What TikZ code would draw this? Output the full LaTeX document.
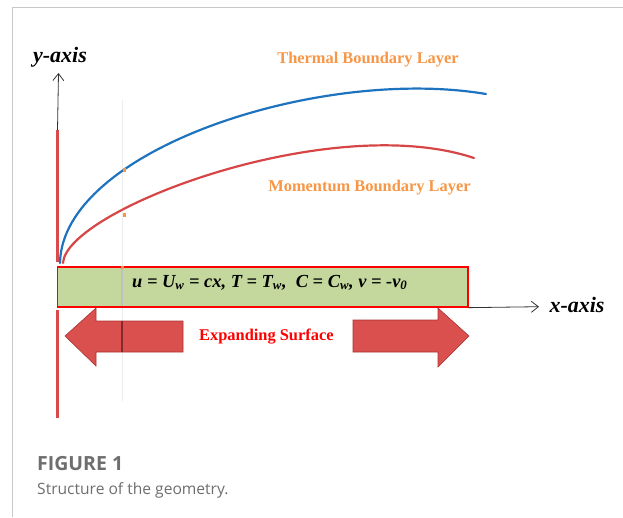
\documentclass[tikz,border=0pt]{standalone}
\usepackage{fontspec}
\setmainfont{Liberation Serif}
\newfontfamily\capfont{Open Sans}
\usetikzlibrary{arrows.meta}
\definecolor{framegray}{RGB}{200,200,200}
\definecolor{layerorange}{RGB}{247,150,70}
\definecolor{curveblue}{RGB}{30,115,190}
\definecolor{curvered}{RGB}{215,70,70}
\definecolor{wallred}{RGB}{215,75,75}
\definecolor{arrowfill}{RGB}{217,80,78}
\definecolor{arrowedge}{RGB}{170,50,50}
\definecolor{surfgreen}{RGB}{196,216,158}
\definecolor{capgray}{RGB}{110,110,110}
\definecolor{faintgray}{RGB}{236,236,236}
\tikzset{
  axisline/.style={draw=black!80, line width=0.8pt, -{Straight Barb[length=7pt,width=11pt]}},
  axislabel/.style={font=\fontsize{22}{22}\selectfont\bfseries\itshape, inner sep=0pt},
  layerlabel/.style={font=\fontsize{16.4}{16.4}\selectfont\bfseries, text=layerorange, inner sep=0pt},
  wall/.style={draw=wallred, line width=2.6pt},
  bigarrow/.style={fill=arrowfill, draw=arrowedge, line width=0.6pt},
  bl/.style={line width=2.2pt, line cap=round}
}
\begin{document}
\begin{tikzpicture}[x=1pt,y=-1pt]
\useasboundingbox (0,0) rectangle (623,517);
% frame
\draw[framegray, line width=1.3pt] (623,7.3) -- (12.7,7.3) -- (12.7,517);
% faint guide line
\draw[faintgray, line width=0.6pt] (122,100) -- (122,401);
% walls
\coordinate (wtop) at (57.5,130);
\coordinate (wbot) at (57.5,262);
\draw[wall] (wtop) -- (wbot);
\coordinate (w2top) at (57.5,310);
\coordinate (w2bot) at (57.5,418);
\draw[wall] (w2top) -- (w2bot);
% y axis
\coordinate (ytip) at (58.5,73);
\draw[axisline] (wtop) -- (ytip);
\node[axislabel, anchor=base] (ylab) at (60,62) {y-axis};
% boundary layers
\coordinate (bstart) at (60,263);
\coordinate (bend) at (486,94);
\coordinate (rstart) at (63,263);
\coordinate (rend) at (474,158);
\draw[curveblue, bl] (bstart) .. controls (62,150) and (320,66) .. (bend);
\draw[curvered, bl] (rstart) .. controls (66,210) and (330,110) .. (rend);
\fill[layerorange] (122.5,168) rectangle (125.5,172);
\fill[layerorange] (122.5,213) rectangle (125.5,217);
\node[layerlabel, anchor=base] (thermal) at (368,63.3) {Thermal Boundary Layer};
\node[layerlabel, anchor=base] (momentum) at (369.5,191) {Momentum Boundary Layer};
% surface
\node[draw=red, line width=1.3pt, fill=surfgreen, minimum width=410.7pt, minimum height=40pt, inner sep=0pt] (surf) at (262.65,287) {};
\draw[black!25, line width=1.5pt] (122,267.7) -- (122,306.3);
\fill[layerorange] (121,266) rectangle (123.5,269);
\node[anchor=base west, inner sep=0pt, font=\fontsize{18.4}{18.4}\selectfont\bfseries\itshape] (bc) at (132,287.3) {u = U\textsubscript{w} = cx, T = T\textsubscript{w},\ \ C = C\textsubscript{w}, v = -v\textsubscript{0}};
% x axis
\coordinate (xtip) at (539,306.7);
\draw[axisline] (surf.south east) -- (xtip);
\node[axislabel, anchor=base] (xlab) at (577,312.3) {x-axis};
% expanding arrows
\draw[bigarrow] (65,336) -- (96,308) -- (96,321) -- (183,321) -- (183,352) -- (96,352) -- (96,366) -- cycle;
\draw[arrowedge!80!black, line width=1.6pt] (122,321) -- (122,352);
\draw[bigarrow] (469,336) -- (438,308) -- (438,320) -- (353,320) -- (353,352) -- (438,352) -- (438,367) -- cycle;
\node[anchor=base west, inner sep=0pt, font=\fontsize{16.4}{16.4}\selectfont\bfseries, text=red] (exp) at (199,340) {Expanding Surface};
% caption
\node[anchor=base west, inner sep=0pt, font=\capfont\fontsize{19.5}{19.5}\selectfont\bfseries, text=capgray] (fig) at (37,470) {FIGURE 1};
\node[anchor=base west, inner sep=0pt, font=\capfont\fontsize{15.6}{15.6}\selectfont, text=capgray] (cap) at (37,494) {Structure of the geometry.};
\end{tikzpicture}
\end{document}
